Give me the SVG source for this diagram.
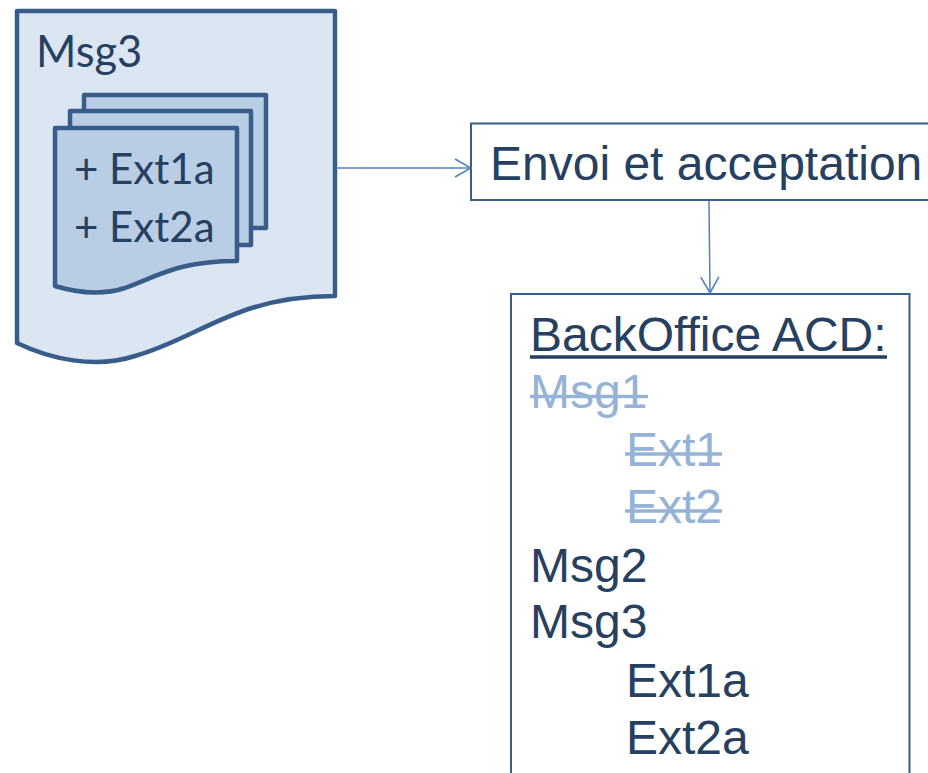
<svg xmlns="http://www.w3.org/2000/svg" width="928" height="773" viewBox="0 0 928 773">
<style>
.doc{stroke:#385d8a;stroke-width:4.5;stroke-linejoin:round}
.outer{fill:#dce6f2}
.inner{fill:#b9cde5}
.box{fill:#fff;stroke:#385d8a;stroke-width:2}
.cal{font-family:Lato,"Open Sans",sans-serif;fill:#254061}
.ar{font-family:"Liberation Sans",Arial,sans-serif;font-size:48px;fill:#254061}
.off{fill:#95b3d7}
.conn{fill:none;stroke:#4f81bd;stroke-width:1.5}
.rule{stroke-width:3.5}
</style>
<defs>
<marker id="open" viewBox="0 0 18 20" refX="17" refY="10" markerWidth="18" markerHeight="20" markerUnits="userSpaceOnUse" orient="auto"><path d="M1 1 L17 10 L1 19" fill="none" stroke="#4f81bd" stroke-width="1.6"/></marker>
</defs>
<rect width="928" height="773" fill="#fff"/>
<g id="msg3-doc">
<path class="doc outer" d="M17 11 H335 V296 C235 296 200 338 135 356 C95 369 50 359 17 343 Z"/>
<text class="cal" x="36" y="67" font-size="43.500">Msg3</text>
</g>
<g id="ext-stack">
<rect class="doc inner" x="84" y="95" width="182" height="133"/>
<rect class="doc inner" x="70" y="111" width="181" height="134"/>
<path class="doc inner" d="M55 128 H237 V261 C180 261 160 275 125 288 C100 296 75 292 55 286 Z"/>
<text class="cal" x="74" y="183.500" font-size="42">+ Ext1a</text>
<text class="cal" x="74" y="241.500" font-size="42">+ Ext2a</text>
</g>
<g id="envoi">
<path d="M928 123.500 H471 V200 H928" class="box"/>
<text class="ar" x="490" y="180">Envoi et acceptation</text>
</g>
<g id="backoffice">
<path d="M511 773 V294 H909.500 V773" class="box"/>
<text class="ar" x="530" y="351">BackOffice ACD:</text>
<line class="rule" x1="530" y1="357" x2="887" y2="357" stroke="#254061"/>
<text class="ar off" x="530" y="408">Msg1</text>
<line class="rule" x1="530" y1="396.500" x2="648" y2="396.500" stroke="#95b3d7"/>
<text class="ar off" x="626" y="466">Ext1</text>
<line class="rule" x1="625" y1="454" x2="722" y2="454" stroke="#95b3d7"/>
<text class="ar off" x="626" y="523">Ext2</text>
<line class="rule" x1="625" y1="511" x2="722" y2="511" stroke="#95b3d7"/>
<text class="ar" x="530" y="582">Msg2</text>
<text class="ar" x="530" y="638">Msg3</text>
<text class="ar" x="626" y="697">Ext1a</text>
<text class="ar" x="626" y="754">Ext2a</text>
</g>
<g id="connectors">
<line class="conn" x1="336" y1="168" x2="471" y2="168" marker-end="url(#open)"/>
<line class="conn" x1="709" y1="201" x2="710" y2="293" marker-end="url(#open)"/>
</g>
</svg>
